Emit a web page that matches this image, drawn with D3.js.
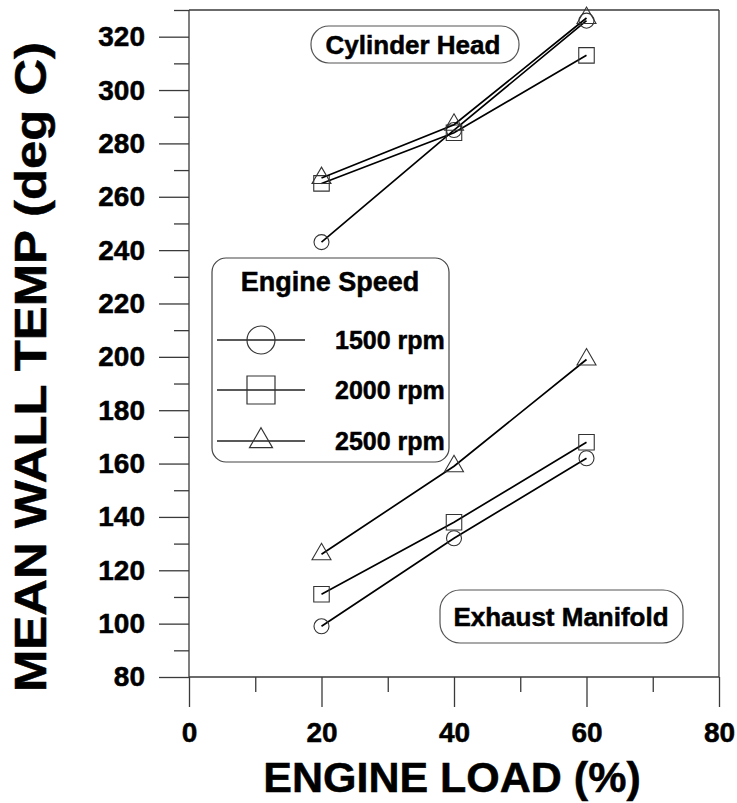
<!DOCTYPE html>
<html>
<head>
<meta charset="utf-8">
<script src="https://cdn.jsdelivr.net/npm/d3@7"></script>
<style>
  html, body { margin: 0; padding: 0; background: #fff; }
  svg { display: block; }
  text { font-family: "Liberation Sans", Arial, sans-serif; font-weight: bold; fill: #000; stroke: #000; stroke-width: 0.5px; }
</style>
</head>
<body>
<svg id="chart" width="737" height="803"></svg>
<script>
// ---- data ----
const loads = [20, 40, 60];
const speeds = ["1500 rpm", "2000 rpm", "2500 rpm"];
const markerTypes = ["circle", "square", "triangle"];
const cylinderHead = [
  [243, 285, 326],   // 1500 rpm
  [265, 284, 313],   // 2000 rpm
  [267, 287, 327]    // 2500 rpm
];
const exhaustManifold = [
  [99, 132, 162],    // 1500 rpm
  [111, 138, 168],   // 2000 rpm
  [126, 159, 199]    // 2500 rpm
];
const xMajorTicks = [0, 20, 40, 60, 80];
const xMinorTicks = [10, 30, 50, 70];
const yMajorTicks = [80, 100, 120, 140, 160, 180, 200, 220, 240, 260, 280, 300, 320];
const yMinorTicks = [90, 110, 130, 150, 170, 190, 210, 230, 250, 270, 290, 310, 330];
const xTitle = "ENGINE LOAD (%)";
const yTitle = "MEAN WALL TEMP (deg C)";
const legendTitle = "Engine Speed";
const labelTop = "Cylinder Head";
const labelBottom = "Exhaust Manifold";

// ---- layout ----
const svg = d3.select("#chart");
const L = 189, R = 719, T = 10, B = 677;
const x = d3.scaleLinear().domain([0, 80]).range([L, R]);
const y = d3.scaleLinear().domain([80, 330]).range([B, T]);
const axisColor = "#3a3a3a";

const symbolOf = { circle: d3.symbolCircle, square: d3.symbolSquare, triangle: d3.symbolTriangle };
const plotSize = { circle: 177, square: 240, triangle: 156 };
const legSize = { circle: 616, square: 784, triangle: 229 };

// ---- axes ----
function styleAxis(g) {
  g.select(".domain").remove();
  g.selectAll(".tick line").attr("stroke", axisColor).attr("stroke-width", 1.3);
  g.selectAll(".tick text").style("font-size", "28px").style("font-weight", "bold")
    .style("font-family", "'Liberation Sans', Arial, sans-serif").attr("fill", "#000");
}
svg.append("g").attr("transform", `translate(${L},0)`)
  .call(d3.axisLeft(y).tickValues(yMajorTicks).tickSize(30).tickPadding(14).tickFormat(d3.format("d")))
  .call(styleAxis);
svg.append("g").attr("transform", `translate(${L},0)`)
  .call(d3.axisLeft(y).tickValues(yMinorTicks).tickSize(15).tickFormat(""))
  .call(styleAxis);
svg.append("g").attr("transform", `translate(0,${B})`)
  .call(d3.axisBottom(x).tickValues(xMajorTicks).tickSize(30).tickPadding(15).tickFormat(d3.format("d")))
  .call(styleAxis);
svg.append("g").attr("transform", `translate(0,${B})`)
  .call(d3.axisBottom(x).tickValues(xMinorTicks).tickSize(15).tickFormat(""))
  .call(styleAxis);

// frame
const frame = svg.append("g").attr("stroke", axisColor).attr("stroke-width", 1.3).attr("fill", "none");
frame.append("line").attr("x1", x(0)).attr("x2", x(0)).attr("y1", y(330)).attr("y2", y(80));
frame.append("line").attr("x1", x(80)).attr("x2", x(80)).attr("y1", y(330)).attr("y2", y(80));
frame.append("line").attr("x1", x(0)).attr("x2", x(80)).attr("y1", y(330)).attr("y2", y(330));
frame.append("line").attr("x1", x(0)).attr("x2", x(80)).attr("y1", y(80)).attr("y2", y(80));

// titles
svg.append("text").attr("x", 452).attr("y", 792).attr("text-anchor", "middle")
  .style("font-size", "43px").text(xTitle);
svg.append("text").attr("transform", "translate(46,367) rotate(-90)").attr("text-anchor", "middle")
  .attr("textLength", 650).attr("lengthAdjust", "spacingAndGlyphs")
  .style("font-size", "44px").text(yTitle);

// ---- series ----
const line = d3.line().x((d, i) => x(loads[i])).y(d => y(d));
function drawGroup(data) {
  data.forEach((vals, s) => {
    svg.append("path").attr("d", line(vals)).attr("fill", "none")
      .attr("stroke", "#000").attr("stroke-width", 1.7);
    const t = markerTypes[s];
    svg.selectAll(null).data(vals).enter().append("path")
      .attr("transform", (d, i) => `translate(${x(loads[i])},${y(d)})`)
      .attr("d", d3.symbol().type(symbolOf[t]).size(plotSize[t]))
      .attr("fill", "none").attr("stroke", "#333").attr("stroke-width", 1.1);
  });
}
drawGroup(cylinderHead);
drawGroup(exhaustManifold);

// ---- annotation boxes ----
svg.append("rect").attr("x", 311).attr("y", 26).attr("width", 208).attr("height", 37).attr("rx", 18)
  .attr("fill", "#fff").attr("stroke", "#555").attr("stroke-width", 1.2);
svg.append("text").attr("x", 413).attr("y", 54).attr("text-anchor", "middle")
  .style("font-size", "26px").text(labelTop);
svg.append("rect").attr("x", 440).attr("y", 590).attr("width", 243).attr("height", 53).attr("rx", 20)
  .attr("fill", "#fff").attr("stroke", "#555").attr("stroke-width", 1.2);
svg.append("text").attr("x", 561).attr("y", 626).attr("text-anchor", "middle")
  .style("font-size", "26px").text(labelBottom);

// ---- legend ----
const leg = svg.append("g");
leg.append("rect").attr("x", 212).attr("y", 258).attr("width", 237).attr("height", 204).attr("rx", 14)
  .attr("fill", "#fff").attr("stroke", "#444").attr("stroke-width", 1.2);
leg.append("text").attr("x", 330).attr("y", 291).attr("text-anchor", "middle")
  .style("font-size", "27px").text(legendTitle);
const rowY = [340, 390, 441];
speeds.forEach((sp, i) => {
  const t = markerTypes[i];
  leg.append("line").attr("x1", 217).attr("x2", 305).attr("y1", rowY[i]).attr("y2", rowY[i])
    .attr("stroke", "#222").attr("stroke-width", 1.3);
  leg.append("path").attr("transform", `translate(261,${rowY[i]})`)
    .attr("d", d3.symbol().type(symbolOf[t]).size(legSize[t]))
    .attr("fill", "none").attr("stroke", "#333").attr("stroke-width", 1.2);
  leg.append("text").attr("x", 335).attr("y", rowY[i] + 9).style("font-size", "25px").text(sp);
});
</script>
</body>
</html>
